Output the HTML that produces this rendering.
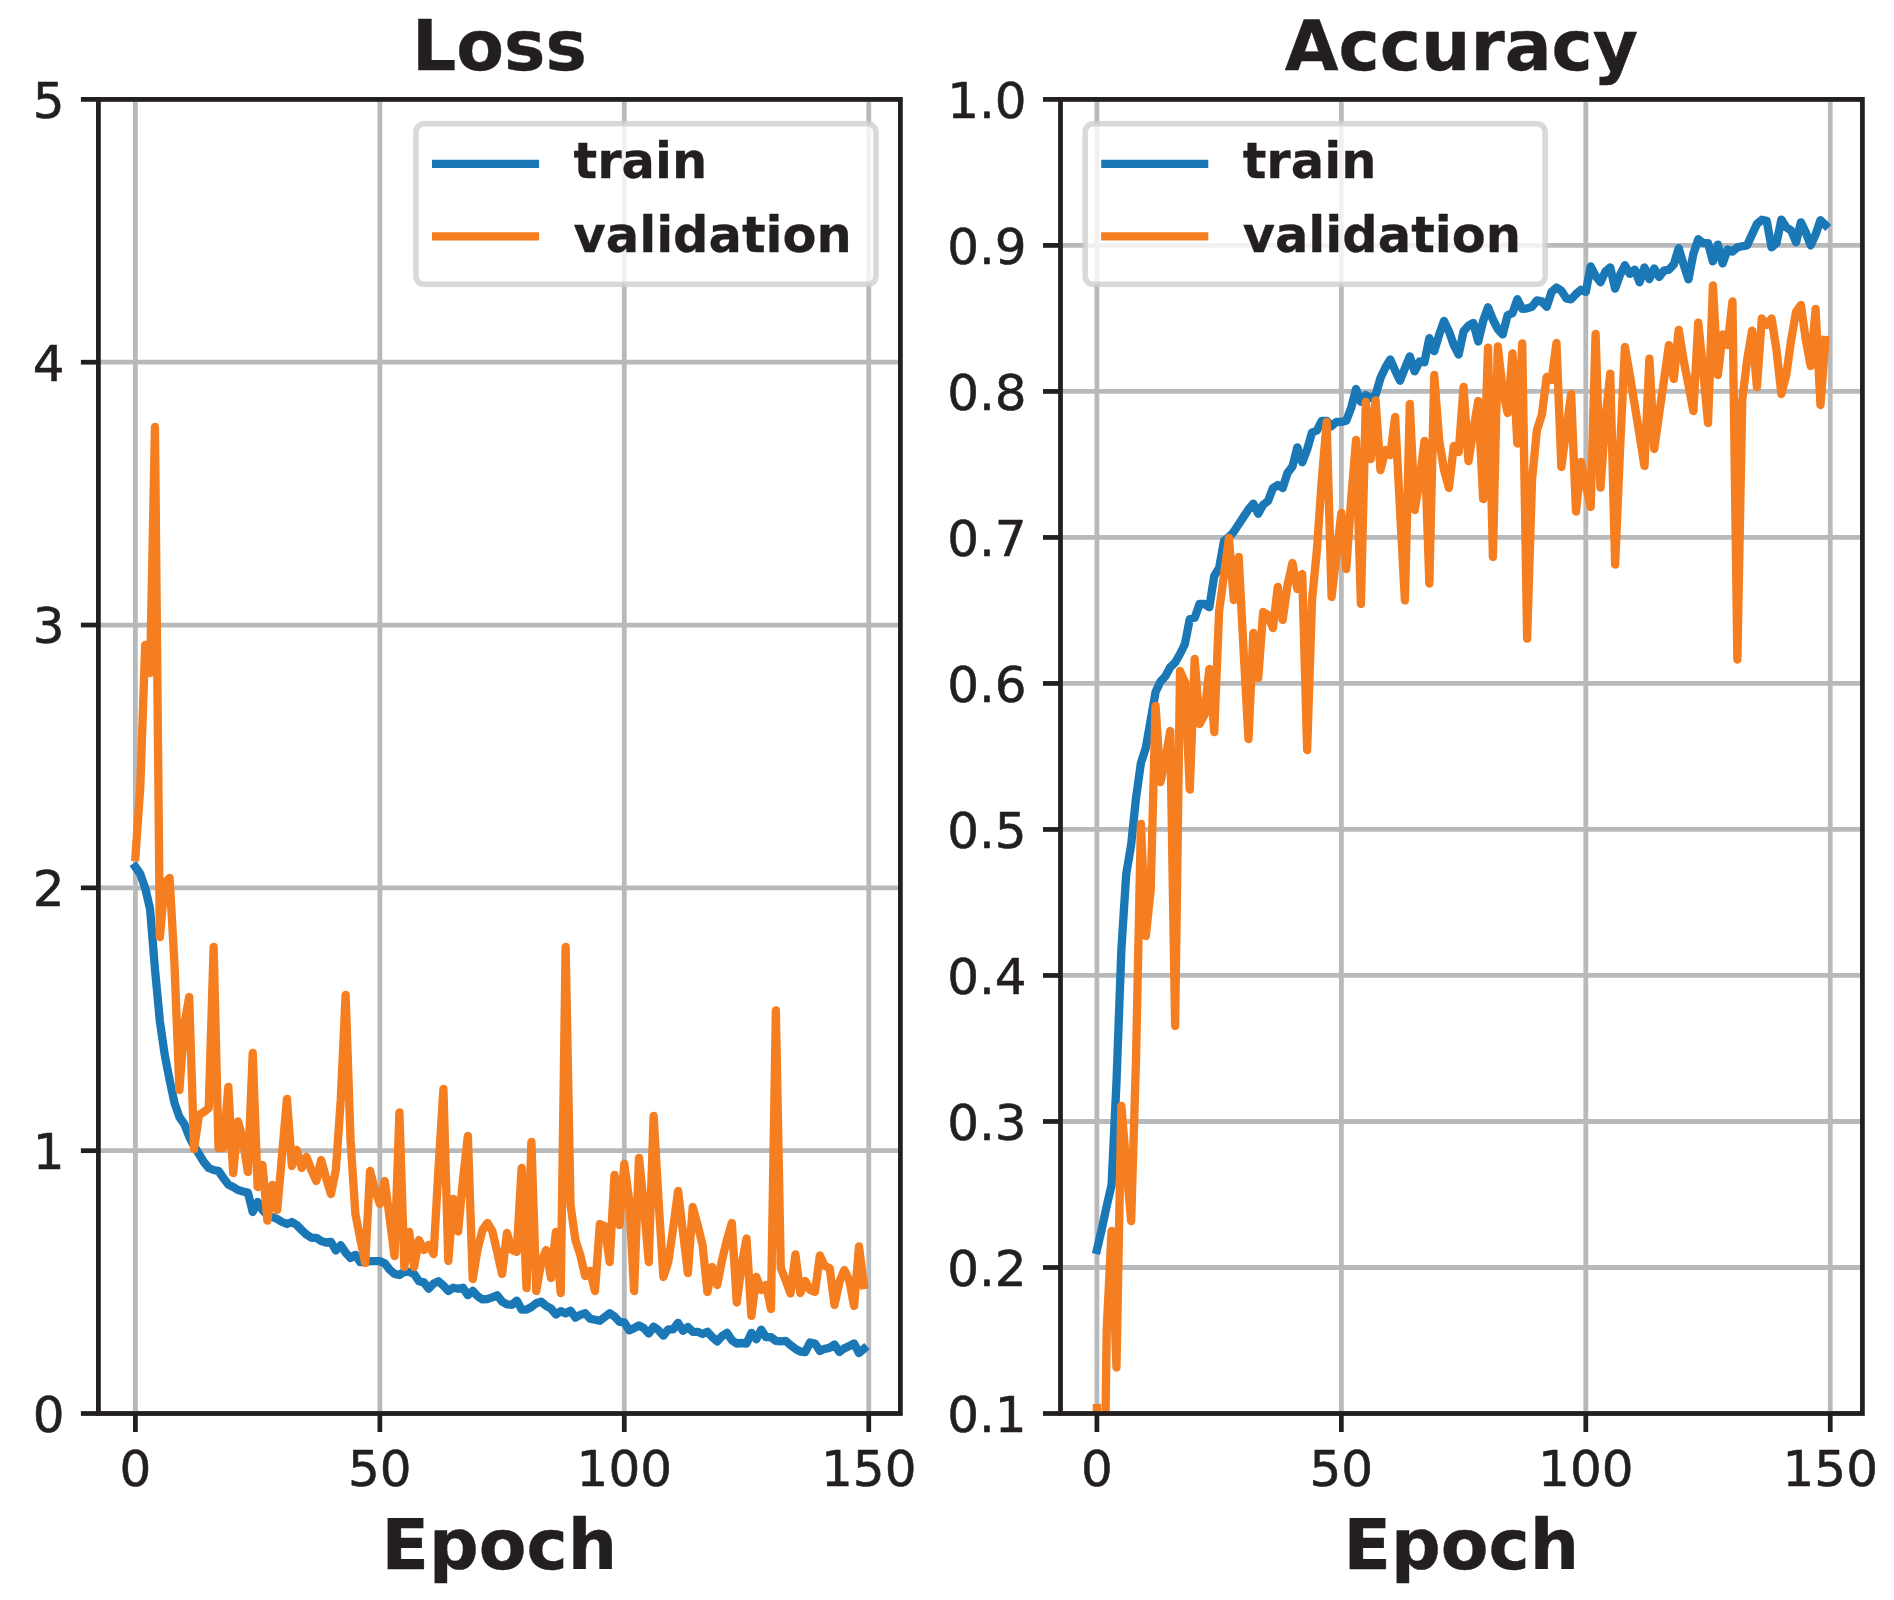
<!DOCTYPE html>
<html><head><meta charset="utf-8"><title>Loss and Accuracy</title>
<style>html,body{margin:0;padding:0;background:#fff;}svg{display:block;}</style>
</head><body>
<svg width="1894" height="1600" viewBox="0 0 1894 1600">
<defs><clipPath id="clipL"><rect x="98.40" y="99.40" width="802.00" height="1314.10"/></clipPath>
<clipPath id="clipA"><rect x="1060.50" y="99.40" width="801.90" height="1314.10"/></clipPath></defs>
<g stroke="#b8b9bb" stroke-width="4.8" stroke-linecap="butt">
<line x1="135.40" y1="99.40" x2="135.40" y2="1413.50"/>
<line x1="379.85" y1="99.40" x2="379.85" y2="1413.50"/>
<line x1="624.30" y1="99.40" x2="624.30" y2="1413.50"/>
<line x1="868.75" y1="99.40" x2="868.75" y2="1413.50"/>
<line x1="98.40" y1="1413.50" x2="900.40" y2="1413.50"/>
<line x1="98.40" y1="1150.68" x2="900.40" y2="1150.68"/>
<line x1="98.40" y1="887.86" x2="900.40" y2="887.86"/>
<line x1="98.40" y1="625.04" x2="900.40" y2="625.04"/>
<line x1="98.40" y1="362.22" x2="900.40" y2="362.22"/>
<line x1="98.40" y1="99.40" x2="900.40" y2="99.40"/>
</g>
<g fill="none" stroke-width="8.33" stroke-linejoin="round" stroke-linecap="square" clip-path="url(#clipL)">
<path d="M135.40 867.00 L140.29 874.00 L145.18 888.00 L150.07 909.00 L154.96 969.00 L159.84 1021.00 L164.73 1055.00 L169.62 1080.00 L174.51 1103.00 L179.40 1117.00 L184.29 1124.00 L189.18 1136.50 L194.07 1146.00 L198.96 1154.00 L203.85 1162.00 L208.74 1168.00 L213.62 1170.00 L218.51 1171.00 L223.40 1178.00 L228.29 1184.50 L233.18 1187.00 L238.07 1190.00 L242.96 1191.50 L247.85 1192.50 L252.74 1212.00 L257.62 1202.00 L262.51 1210.00 L267.40 1215.00 L272.29 1217.00 L277.18 1219.00 L282.07 1222.00 L286.96 1224.00 L291.85 1222.00 L296.74 1225.00 L301.63 1230.00 L306.51 1234.60 L311.40 1237.80 L316.29 1237.80 L321.18 1241.00 L326.07 1242.50 L330.96 1242.00 L335.85 1250.50 L340.74 1245.20 L345.63 1252.60 L350.52 1258.00 L355.41 1254.80 L360.29 1262.20 L365.18 1262.20 L370.07 1261.20 L374.96 1261.20 L379.85 1261.20 L384.74 1263.30 L389.63 1269.60 L394.52 1273.90 L399.41 1275.00 L404.30 1271.80 L409.18 1271.80 L414.07 1273.90 L418.96 1281.30 L423.85 1282.40 L428.74 1288.80 L433.63 1283.50 L438.52 1281.30 L443.41 1285.60 L448.30 1290.90 L453.19 1287.70 L458.07 1288.80 L462.96 1287.70 L467.85 1295.20 L472.74 1290.90 L477.63 1296.20 L482.52 1299.40 L487.41 1299.00 L492.30 1297.40 L497.19 1295.30 L502.08 1301.60 L506.96 1304.30 L511.85 1304.80 L516.74 1300.60 L521.63 1309.60 L526.52 1309.60 L531.41 1307.00 L536.30 1303.20 L541.19 1301.60 L546.08 1305.90 L550.97 1308.50 L555.85 1314.40 L560.74 1311.20 L565.63 1313.30 L570.52 1310.70 L575.41 1317.60 L580.30 1314.90 L585.19 1313.30 L590.08 1318.60 L594.97 1319.70 L599.86 1320.80 L604.74 1317.00 L609.63 1313.30 L614.52 1316.50 L619.41 1321.80 L624.30 1322.40 L629.19 1330.30 L634.08 1328.20 L638.97 1325.50 L643.86 1328.20 L648.75 1333.50 L653.63 1326.60 L658.52 1330.30 L663.41 1335.60 L668.30 1329.30 L673.19 1329.30 L678.08 1322.90 L682.97 1330.80 L687.86 1327.00 L692.75 1331.80 L697.63 1331.80 L702.52 1334.00 L707.41 1331.80 L712.30 1337.10 L717.19 1341.40 L722.08 1336.10 L726.97 1332.90 L731.86 1340.30 L736.75 1343.50 L741.64 1343.00 L746.52 1343.50 L751.41 1332.90 L756.30 1339.30 L761.19 1329.70 L766.08 1337.10 L770.97 1337.10 L775.86 1340.90 L780.75 1341.40 L785.64 1340.90 L790.53 1345.10 L795.41 1348.80 L800.30 1351.50 L805.19 1352.00 L810.08 1342.50 L814.97 1343.50 L819.86 1351.00 L824.75 1348.80 L829.64 1347.80 L834.53 1344.60 L839.42 1352.00 L844.31 1348.30 L849.19 1346.20 L854.08 1343.50 L858.97 1353.10 L863.86 1348.80" stroke="#1a78b6"/>
<path d="M135.40 857.00 L140.29 787.00 L145.18 645.00 L150.07 673.00 L154.96 427.00 L159.84 937.00 L164.73 883.00 L169.62 878.00 L174.51 965.00 L179.40 1090.00 L184.29 1025.00 L189.18 997.00 L194.07 1149.00 L198.96 1115.00 L203.85 1112.00 L208.74 1108.00 L213.62 947.00 L218.51 1148.00 L223.40 1148.00 L228.29 1087.00 L233.18 1173.00 L238.07 1121.50 L242.96 1140.00 L247.85 1172.00 L252.74 1053.00 L257.62 1187.00 L262.51 1165.00 L267.40 1220.60 L272.29 1185.00 L277.18 1210.00 L282.07 1155.00 L286.96 1099.00 L291.85 1166.00 L296.74 1150.00 L301.63 1168.00 L306.51 1157.00 L311.40 1170.00 L316.29 1181.00 L321.18 1160.00 L326.07 1178.00 L330.96 1194.00 L335.85 1170.00 L340.74 1100.00 L345.63 995.00 L350.52 1140.00 L355.41 1214.00 L360.29 1239.00 L365.18 1263.00 L370.07 1171.00 L374.96 1190.00 L379.85 1204.00 L384.74 1181.00 L389.63 1218.00 L394.52 1256.00 L399.41 1112.50 L404.30 1267.00 L409.18 1232.00 L414.07 1267.00 L418.96 1240.00 L423.85 1250.00 L428.74 1245.00 L433.63 1254.00 L438.52 1168.00 L443.41 1089.00 L448.30 1261.00 L453.19 1199.00 L458.07 1231.50 L462.96 1180.00 L467.85 1136.00 L472.74 1279.00 L477.63 1249.00 L482.52 1230.00 L487.41 1223.00 L492.30 1231.00 L497.19 1252.00 L502.08 1274.00 L506.96 1233.00 L511.85 1250.00 L516.74 1252.00 L521.63 1168.00 L526.52 1288.00 L531.41 1142.00 L536.30 1291.00 L541.19 1262.00 L546.08 1250.00 L550.97 1278.00 L555.85 1232.00 L560.74 1293.00 L565.63 947.00 L570.52 1205.00 L575.41 1240.00 L580.30 1255.00 L585.19 1276.00 L590.08 1271.00 L594.97 1291.00 L599.86 1224.00 L604.74 1226.00 L609.63 1262.00 L614.52 1175.00 L619.41 1225.00 L624.30 1164.00 L629.19 1200.00 L634.08 1291.00 L638.97 1158.00 L643.86 1205.00 L648.75 1262.00 L653.63 1116.00 L658.52 1200.00 L663.41 1277.00 L668.30 1262.00 L673.19 1228.00 L678.08 1191.00 L682.97 1232.00 L687.86 1273.00 L692.75 1207.00 L697.63 1225.00 L702.52 1245.00 L707.41 1292.00 L712.30 1267.00 L717.19 1285.00 L722.08 1260.00 L726.97 1240.00 L731.86 1223.00 L736.75 1302.50 L741.64 1265.00 L746.52 1238.50 L751.41 1316.00 L756.30 1277.00 L761.19 1290.00 L766.08 1285.00 L770.97 1309.00 L775.86 1010.50 L780.75 1268.00 L785.64 1280.00 L790.53 1293.50 L795.41 1254.50 L800.30 1293.00 L805.19 1281.00 L810.08 1290.00 L814.97 1292.00 L819.86 1255.50 L824.75 1266.00 L829.64 1268.00 L834.53 1305.00 L839.42 1282.00 L844.31 1270.00 L849.19 1280.00 L854.08 1306.00 L858.97 1246.50 L863.86 1285.00" stroke="#f47e20"/>
</g>
<g stroke="#231f20" stroke-width="4.75">
<line x1="135.40" y1="1413.50" x2="135.40" y2="1432.00"/>
<line x1="379.85" y1="1413.50" x2="379.85" y2="1432.00"/>
<line x1="624.30" y1="1413.50" x2="624.30" y2="1432.00"/>
<line x1="868.75" y1="1413.50" x2="868.75" y2="1432.00"/>
<line x1="80.90" y1="1413.50" x2="98.40" y2="1413.50"/>
<line x1="80.90" y1="1150.68" x2="98.40" y2="1150.68"/>
<line x1="80.90" y1="887.86" x2="98.40" y2="887.86"/>
<line x1="80.90" y1="625.04" x2="98.40" y2="625.04"/>
<line x1="80.90" y1="362.22" x2="98.40" y2="362.22"/>
<line x1="80.90" y1="99.40" x2="98.40" y2="99.40"/>
</g>
<rect x="98.40" y="99.40" width="802.00" height="1314.10" fill="none" stroke="#231f20" stroke-width="4.75"/>
<g font-family="'DejaVu Sans', 'Liberation Sans', sans-serif" font-size="50" fill="#231f20" stroke="#231f20" stroke-width="0.55" stroke-linejoin="round">
<text x="64.60" y="1431.80" text-anchor="end">0</text>
<text x="64.60" y="1168.98" text-anchor="end">1</text>
<text x="64.60" y="906.16" text-anchor="end">2</text>
<text x="64.60" y="643.34" text-anchor="end">3</text>
<text x="64.60" y="380.52" text-anchor="end">4</text>
<text x="64.60" y="117.70" text-anchor="end">5</text>
<text x="135.40" y="1486.00" text-anchor="middle">0</text>
<text x="379.85" y="1486.00" text-anchor="middle">50</text>
<text x="624.30" y="1486.00" text-anchor="middle">100</text>
<text x="868.75" y="1486.00" text-anchor="middle">150</text>
</g>
<text x="499.40" y="69.70" text-anchor="middle" font-family="'DejaVu Sans', 'Liberation Sans', sans-serif" font-weight="bold" font-size="69.5" fill="#231f20" stroke="#231f20" stroke-width="0.4" stroke-linejoin="round">Loss</text>
<text x="499.40" y="1569.00" text-anchor="middle" font-family="'DejaVu Sans', 'Liberation Sans', sans-serif" font-weight="bold" font-size="69.5" fill="#231f20" stroke="#231f20" stroke-width="0.4" stroke-linejoin="round">Epoch</text>
<rect x="415.95" y="123.85" width="460.00" height="160.50" rx="8" ry="8" fill="#ffffff" fill-opacity="0.8" stroke="#cecfd1" stroke-opacity="0.8" stroke-width="5.5"/>
<line x1="432.00" y1="163.9" x2="539.10" y2="163.9" stroke="#1a78b6" stroke-width="8.33"/>
<line x1="432.00" y1="236.4" x2="539.10" y2="236.4" stroke="#f47e20" stroke-width="8.33"/>
<g font-family="'DejaVu Sans', 'Liberation Sans', sans-serif" font-weight="bold" font-size="49.5" fill="#231f20" stroke="#231f20" stroke-width="0.3" stroke-linejoin="round">
<text x="573.50" y="178.4">train</text>
<text x="573.50" y="251.8">validation</text>
</g>
<g stroke="#b8b9bb" stroke-width="4.8" stroke-linecap="butt">
<line x1="1096.90" y1="99.40" x2="1096.90" y2="1413.50"/>
<line x1="1341.35" y1="99.40" x2="1341.35" y2="1413.50"/>
<line x1="1585.80" y1="99.40" x2="1585.80" y2="1413.50"/>
<line x1="1830.25" y1="99.40" x2="1830.25" y2="1413.50"/>
<line x1="1060.50" y1="1413.50" x2="1862.40" y2="1413.50"/>
<line x1="1060.50" y1="1267.49" x2="1862.40" y2="1267.49"/>
<line x1="1060.50" y1="1121.48" x2="1862.40" y2="1121.48"/>
<line x1="1060.50" y1="975.47" x2="1862.40" y2="975.47"/>
<line x1="1060.50" y1="829.46" x2="1862.40" y2="829.46"/>
<line x1="1060.50" y1="683.45" x2="1862.40" y2="683.45"/>
<line x1="1060.50" y1="537.44" x2="1862.40" y2="537.44"/>
<line x1="1060.50" y1="391.43" x2="1862.40" y2="391.43"/>
<line x1="1060.50" y1="245.42" x2="1862.40" y2="245.42"/>
<line x1="1060.50" y1="99.41" x2="1862.40" y2="99.41"/>
</g>
<g fill="none" stroke-width="8.33" stroke-linejoin="round" stroke-linecap="square" clip-path="url(#clipA)">
<path d="M1096.90 1250.00 L1101.79 1229.00 L1106.68 1206.00 L1111.57 1185.00 L1116.46 1083.00 L1121.35 950.00 L1126.23 874.00 L1131.12 845.00 L1136.01 798.00 L1140.90 763.00 L1145.79 748.00 L1150.68 720.00 L1155.57 692.00 L1160.46 681.60 L1165.35 676.30 L1170.24 667.20 L1175.12 662.50 L1180.01 654.00 L1184.90 644.00 L1189.79 619.00 L1194.68 617.80 L1199.57 604.00 L1204.46 604.00 L1209.35 607.20 L1214.24 576.00 L1219.12 568.00 L1224.01 541.00 L1228.90 537.00 L1233.79 531.80 L1238.68 524.30 L1243.57 516.90 L1248.46 509.50 L1253.35 503.60 L1258.24 513.70 L1263.13 504.70 L1268.02 501.00 L1272.90 488.20 L1277.79 485.00 L1282.68 488.00 L1287.57 472.90 L1292.46 466.50 L1297.35 447.40 L1302.24 462.30 L1307.13 449.50 L1312.02 432.50 L1316.91 430.40 L1321.79 420.80 L1326.68 420.80 L1331.57 426.10 L1336.46 421.90 L1341.35 421.90 L1346.24 420.80 L1351.13 408.10 L1356.02 389.00 L1360.91 401.70 L1365.80 395.00 L1370.68 398.00 L1375.57 395.20 L1380.46 378.00 L1385.35 367.70 L1390.24 359.50 L1395.13 370.40 L1400.02 380.70 L1404.91 368.30 L1409.80 356.40 L1414.69 371.40 L1419.57 361.50 L1424.46 362.20 L1429.35 338.20 L1434.24 351.10 L1439.13 334.70 L1444.02 321.00 L1448.91 331.20 L1453.80 345.00 L1458.69 354.50 L1463.58 331.20 L1468.46 325.70 L1473.35 323.00 L1478.24 341.50 L1483.13 321.00 L1488.02 307.30 L1492.91 319.50 L1497.80 329.10 L1502.69 334.40 L1507.58 315.30 L1512.47 313.10 L1517.35 299.30 L1522.24 308.90 L1527.13 308.40 L1532.02 306.80 L1536.91 300.40 L1541.80 301.40 L1546.69 306.80 L1551.58 291.90 L1556.47 287.60 L1561.36 290.80 L1566.24 298.30 L1571.13 299.30 L1576.02 294.00 L1580.91 289.80 L1585.80 291.90 L1590.69 266.40 L1595.58 275.90 L1600.47 282.30 L1605.36 271.70 L1610.25 267.40 L1615.13 288.70 L1620.02 274.90 L1624.91 265.30 L1629.80 273.80 L1634.69 269.60 L1639.58 282.30 L1644.47 267.40 L1649.36 279.10 L1654.25 268.50 L1659.14 277.00 L1664.02 270.60 L1668.91 269.60 L1673.80 264.40 L1678.69 248.30 L1683.58 264.40 L1688.47 279.40 L1693.36 253.80 L1698.25 239.30 L1703.14 243.10 L1708.03 243.10 L1712.91 261.30 L1717.80 244.60 L1722.69 263.40 L1727.58 249.50 L1732.47 251.60 L1737.36 247.40 L1742.25 246.30 L1747.14 245.30 L1752.03 234.60 L1756.91 224.00 L1761.80 219.80 L1766.69 220.80 L1771.58 247.40 L1776.47 243.10 L1781.36 219.60 L1786.25 227.20 L1791.14 230.40 L1796.03 242.20 L1800.92 222.30 L1805.81 232.50 L1810.69 245.40 L1815.58 234.60 L1820.47 220.20 L1825.36 225.10" stroke="#1a78b6"/>
<path d="M1096.90 1408.00 L1101.79 1700.00 L1106.68 1330.00 L1111.57 1231.00 L1116.46 1367.50 L1121.35 1106.00 L1126.23 1165.00 L1131.12 1221.00 L1136.01 1060.00 L1140.90 824.00 L1145.79 936.00 L1150.68 890.00 L1155.57 706.00 L1160.46 782.00 L1165.35 760.00 L1170.24 731.00 L1175.12 1026.00 L1180.01 671.00 L1184.90 682.00 L1189.79 789.50 L1194.68 659.00 L1199.57 724.00 L1204.46 715.00 L1209.35 669.00 L1214.24 732.00 L1219.12 611.00 L1224.01 575.00 L1228.90 538.00 L1233.79 600.00 L1238.68 557.00 L1243.57 650.00 L1248.46 739.00 L1253.35 633.00 L1258.24 678.00 L1263.13 612.00 L1268.02 615.00 L1272.90 628.00 L1277.79 587.00 L1282.68 620.00 L1287.57 585.00 L1292.46 563.00 L1297.35 589.00 L1302.24 574.00 L1307.13 750.00 L1312.02 600.00 L1316.91 550.00 L1321.79 480.00 L1326.68 422.00 L1331.57 597.00 L1336.46 555.00 L1341.35 513.00 L1346.24 569.00 L1351.13 500.00 L1356.02 440.00 L1360.91 604.00 L1365.80 402.00 L1370.68 459.00 L1375.57 400.50 L1380.46 470.00 L1385.35 450.00 L1390.24 455.00 L1395.13 417.00 L1400.02 510.00 L1404.91 600.50 L1409.80 404.00 L1414.69 510.00 L1419.57 480.00 L1424.46 441.00 L1429.35 583.50 L1434.24 375.00 L1439.13 440.00 L1444.02 470.00 L1448.91 488.00 L1453.80 446.00 L1458.69 452.00 L1463.58 387.00 L1468.46 461.00 L1473.35 430.00 L1478.24 401.00 L1483.13 499.00 L1488.02 347.60 L1492.91 557.00 L1497.80 346.50 L1502.69 390.00 L1507.58 413.00 L1512.47 353.40 L1517.35 443.50 L1522.24 343.30 L1527.13 638.70 L1532.02 480.00 L1536.91 430.00 L1541.80 415.00 L1546.69 377.00 L1551.58 380.00 L1556.47 343.00 L1561.36 467.00 L1566.24 430.00 L1571.13 394.00 L1576.02 511.50 L1580.91 462.00 L1585.80 485.00 L1590.69 507.00 L1595.58 334.00 L1600.47 487.60 L1605.36 420.00 L1610.25 373.60 L1615.13 564.60 L1620.02 450.00 L1624.91 347.00 L1629.80 375.00 L1634.69 405.00 L1639.58 435.00 L1644.47 466.00 L1649.36 358.70 L1654.25 449.00 L1659.14 414.00 L1664.02 380.00 L1668.91 345.00 L1673.80 379.00 L1678.69 330.00 L1683.58 360.00 L1688.47 385.00 L1693.36 411.00 L1698.25 322.70 L1703.14 370.00 L1708.03 423.00 L1712.91 285.50 L1717.80 375.00 L1722.69 334.50 L1727.58 345.00 L1732.47 301.50 L1737.36 659.50 L1742.25 400.00 L1747.14 360.00 L1752.03 330.70 L1756.91 387.00 L1761.80 318.50 L1766.69 325.00 L1771.58 318.50 L1776.47 350.00 L1781.36 394.00 L1786.25 375.00 L1791.14 340.00 L1796.03 312.00 L1800.92 305.00 L1805.81 340.00 L1810.69 366.00 L1815.58 309.00 L1820.47 405.00 L1825.36 340.00" stroke="#f47e20"/>
</g>
<g stroke="#231f20" stroke-width="4.75">
<line x1="1096.90" y1="1413.50" x2="1096.90" y2="1432.00"/>
<line x1="1341.35" y1="1413.50" x2="1341.35" y2="1432.00"/>
<line x1="1585.80" y1="1413.50" x2="1585.80" y2="1432.00"/>
<line x1="1830.25" y1="1413.50" x2="1830.25" y2="1432.00"/>
<line x1="1043.00" y1="1413.50" x2="1060.50" y2="1413.50"/>
<line x1="1043.00" y1="1267.49" x2="1060.50" y2="1267.49"/>
<line x1="1043.00" y1="1121.48" x2="1060.50" y2="1121.48"/>
<line x1="1043.00" y1="975.47" x2="1060.50" y2="975.47"/>
<line x1="1043.00" y1="829.46" x2="1060.50" y2="829.46"/>
<line x1="1043.00" y1="683.45" x2="1060.50" y2="683.45"/>
<line x1="1043.00" y1="537.44" x2="1060.50" y2="537.44"/>
<line x1="1043.00" y1="391.43" x2="1060.50" y2="391.43"/>
<line x1="1043.00" y1="245.42" x2="1060.50" y2="245.42"/>
<line x1="1043.00" y1="99.41" x2="1060.50" y2="99.41"/>
</g>
<rect x="1060.50" y="99.40" width="801.90" height="1314.10" fill="none" stroke="#231f20" stroke-width="4.75"/>
<g font-family="'DejaVu Sans', 'Liberation Sans', sans-serif" font-size="50" fill="#231f20" stroke="#231f20" stroke-width="0.55" stroke-linejoin="round">
<text x="1026.70" y="1431.80" text-anchor="end">0.1</text>
<text x="1026.70" y="1285.79" text-anchor="end">0.2</text>
<text x="1026.70" y="1139.78" text-anchor="end">0.3</text>
<text x="1026.70" y="993.77" text-anchor="end">0.4</text>
<text x="1026.70" y="847.76" text-anchor="end">0.5</text>
<text x="1026.70" y="701.75" text-anchor="end">0.6</text>
<text x="1026.70" y="555.74" text-anchor="end">0.7</text>
<text x="1026.70" y="409.73" text-anchor="end">0.8</text>
<text x="1026.70" y="263.72" text-anchor="end">0.9</text>
<text x="1026.70" y="117.71" text-anchor="end">1.0</text>
<text x="1096.90" y="1486.00" text-anchor="middle">0</text>
<text x="1341.35" y="1486.00" text-anchor="middle">50</text>
<text x="1585.80" y="1486.00" text-anchor="middle">100</text>
<text x="1830.25" y="1486.00" text-anchor="middle">150</text>
</g>
<text x="1461.45" y="69.70" text-anchor="middle" font-family="'DejaVu Sans', 'Liberation Sans', sans-serif" font-weight="bold" font-size="69.5" fill="#231f20" stroke="#231f20" stroke-width="0.4" stroke-linejoin="round">Accuracy</text>
<text x="1461.45" y="1569.00" text-anchor="middle" font-family="'DejaVu Sans', 'Liberation Sans', sans-serif" font-weight="bold" font-size="69.5" fill="#231f20" stroke="#231f20" stroke-width="0.4" stroke-linejoin="round">Epoch</text>
<rect x="1085.15" y="123.85" width="460.00" height="160.50" rx="8" ry="8" fill="#ffffff" fill-opacity="0.8" stroke="#cecfd1" stroke-opacity="0.8" stroke-width="5.5"/>
<line x1="1101.20" y1="163.9" x2="1208.30" y2="163.9" stroke="#1a78b6" stroke-width="8.33"/>
<line x1="1101.20" y1="236.4" x2="1208.30" y2="236.4" stroke="#f47e20" stroke-width="8.33"/>
<g font-family="'DejaVu Sans', 'Liberation Sans', sans-serif" font-weight="bold" font-size="49.5" fill="#231f20" stroke="#231f20" stroke-width="0.3" stroke-linejoin="round">
<text x="1242.70" y="178.4">train</text>
<text x="1242.70" y="251.8">validation</text>
</g>
</svg>
</body></html>
